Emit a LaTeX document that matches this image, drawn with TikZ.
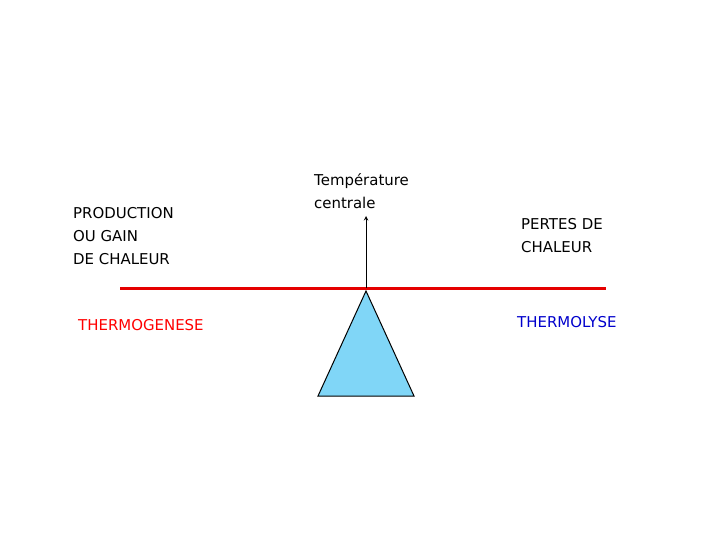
\documentclass[tikz,border=0pt]{standalone}
\usepackage{fontspec}
\setmainfont{DejaVu Sans}
\begin{document}
\begin{tikzpicture}[x=1bp,y=-1bp,
  lbl/.style={anchor=north west,inner sep=0pt,font=\fontsize{15}{23}\selectfont,align=left}]
\useasboundingbox (0,0) rectangle (720,540);
\draw[red!90!black,line width=3bp] (120,288) -- (606,288);
\coordinate (apex) at (366,291);
\coordinate (top) at (366,216);
\draw[fill=cyan!50,line width=1bp] (apex) -- (414,396) -- (318,396) -- cycle;
\draw[-stealth,line width=1bp] (366,288) -- (top);
\node[lbl] (temp) at (314,173) {Température\\centrale};
\node[lbl] (prod) at (73,207) {PRODUCTION\\OU GAIN\\DE CHALEUR};
\node[lbl,text=red] (tg) at (78,319) {THERMOGENESE};
\node[lbl] (pertes) at (521,218) {PERTES DE\\CHALEUR};
\node[lbl,text=blue!80!black] (tl) at (517,316) {THERMOLYSE};
\end{tikzpicture}
\end{document}
